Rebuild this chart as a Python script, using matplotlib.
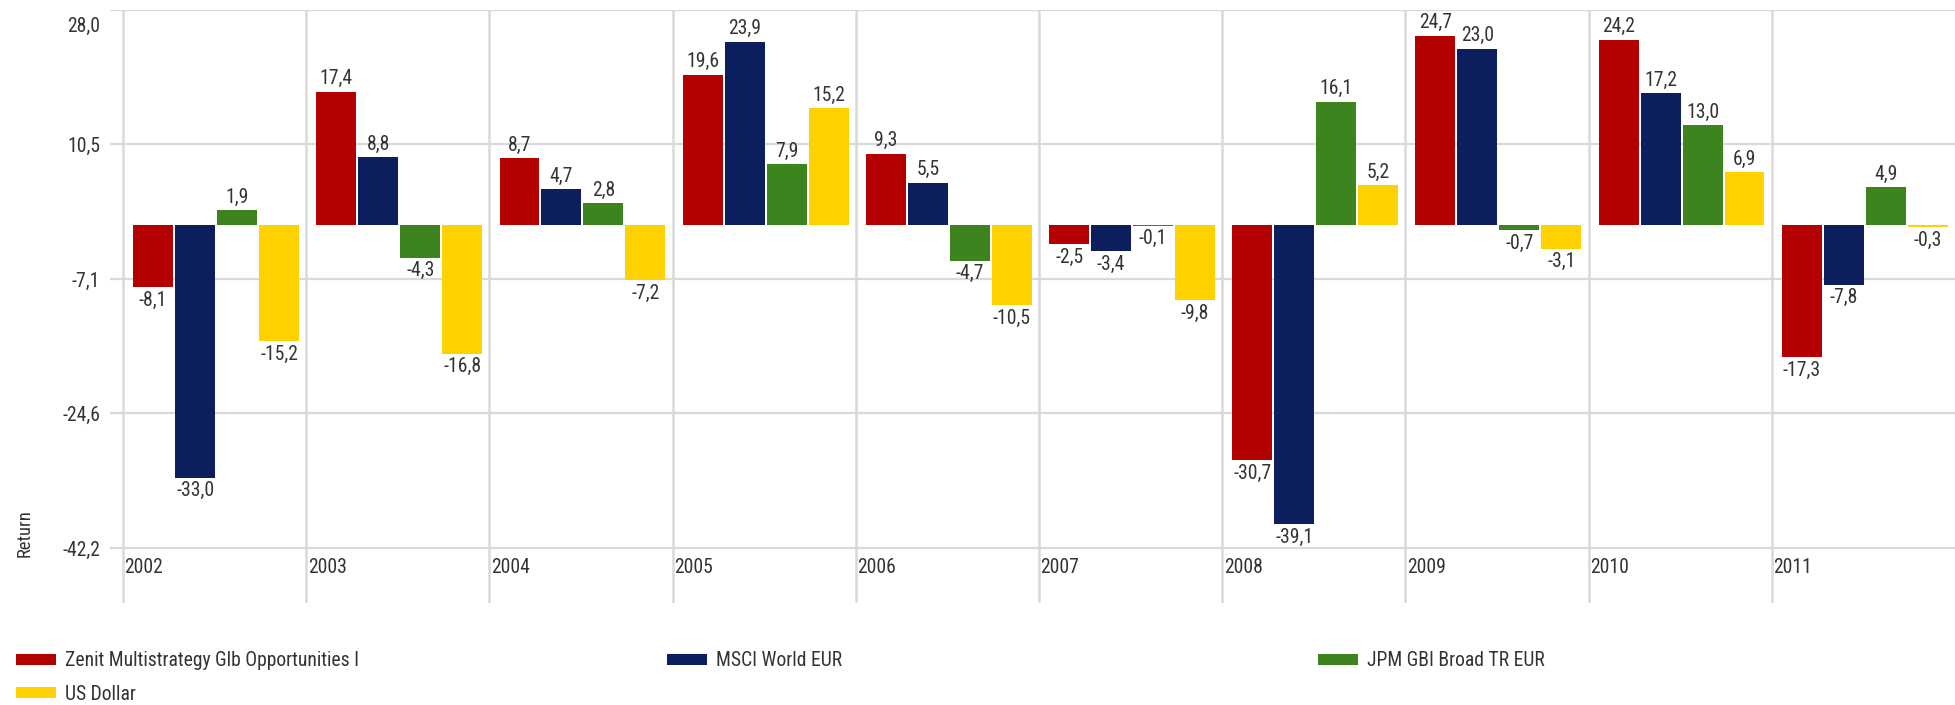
import matplotlib
matplotlib.use("Agg")
import matplotlib.pyplot as plt
import matplotlib.transforms as mtransforms
from matplotlib import font_manager as fm
from matplotlib.patches import Patch

# ---------------- data ----------------
years = ["2002", "2003", "2004", "2005", "2006", "2007", "2008", "2009", "2010", "2011"]
series_names = ["Zenit Multistrategy Glb Opportunities I", "MSCI World EUR",
                "JPM GBI Broad TR EUR", "US Dollar"]
zenit = [-8.1, 17.4, 8.7, 19.6, 9.3, -2.5, -30.7, 24.7, 24.2, -17.3]
msci = [-33.0, 8.8, 4.7, 23.9, 5.5, -3.4, -39.1, 23.0, 17.2, -7.8]
jpm = [1.9, -4.3, 2.8, 7.9, -4.7, -0.1, 16.1, -0.7, 13.0, 4.9]
usd = [-15.2, -16.8, -7.2, 15.2, -10.5, -9.8, 5.2, -3.1, 6.9, -0.3]
ytick_values = [28.0, 10.5, -7.1, -24.6, -42.2]
y_label = "Return"

series = [zenit, msci, jpm, usd]
colors = ["#B30000", "#0C1E5E", "#3E841E", "#FFD100"]
text_color = "#333333"
grid_color = "#D9D9D9"


def available(name):
    try:
        fm.findfont(fm.FontProperties(family=name), fallback_to_default=False)
        return True
    except Exception:
        return False


font_family, fsize = "DejaVu Sans", 11.0
for name, size in [("Roboto Condensed", 14.1), ("Liberation Sans Narrow", 14.3),
                   ("Liberation Sans", 12.3)]:
    if available(name):
        font_family, fsize = name, size
        break
plt.rcParams["font.family"] = [font_family, "DejaVu Sans"]


def fmt(v):
    return f"{v:.1f}".replace(".", ",")


fig = plt.figure(figsize=(19.55, 7.05), dpi=100)
ax = fig.add_axes([0.0563, 0.1447, 0.9437, 0.8405])
ax.set_xlim(-0.071, len(years))
ax.set_ylim(-49.36, 28.0)

for s in ax.spines.values():
    s.set_visible(False)

ax.set_yticks(ytick_values)
ax.set_yticklabels([fmt(v) for v in ytick_values])
ax.set_xticks([])
ax.tick_params(axis="y", length=0, pad=7, labelsize=fsize, labelcolor=text_color)
ax.yaxis.grid(True, color=grid_color, lw=1.6, zorder=0)
ax.set_axisbelow(True)

# keep the top tick label inside the figure (shifted down below its gridline)
top_lbl = ax.get_yticklabels()[0]
top_lbl.set_transform(top_lbl.get_transform() +
                      mtransforms.ScaledTranslation(0, -14 / 100, fig.dpi_scale_trans))

for k in range(len(years)):
    ax.axvline(k, color=grid_color, lw=1.8, zorder=0.5)
    ax.text(k + 0.008, -44.7, years[k], ha="left", va="center",
            fontsize=fsize, color=text_color)

offset, step, width = 0.055, 0.229, 0.218
handles = []
for i, (vals, col) in enumerate(zip(series, colors)):
    xs = [k + offset + i * step for k in range(len(years))]
    ax.bar(xs, vals, width=width, align="edge", color=col, zorder=2,
           label=series_names[i])
    handles.append(Patch(facecolor=col, label=series_names[i]))
    for x, v in zip(xs, vals):
        if v >= 0:
            ax.annotate(fmt(v), (x + width / 2, v), xytext=(0, 2.5),
                        textcoords="offset points", ha="center", va="bottom",
                        fontsize=fsize, color=text_color)
        else:
            ax.annotate(fmt(v), (x + width / 2, v), xytext=(0, -2.5),
                        textcoords="offset points", ha="center", va="top",
                        fontsize=fsize, color=text_color)

fig.text(0.0128, 0.244, y_label, rotation=90, ha="center", va="center",
         fontsize=fsize * 0.95, color=text_color)

leg_kw = dict(loc="upper left", frameon=False, borderaxespad=0, borderpad=0,
              handlelength=2.05, handleheight=0.55, handletextpad=0.45,
              labelspacing=0.72, fontsize=fsize, labelcolor=text_color)
leg_groups = [([handles[0], handles[3]], 0.0082),
              ([handles[1]], 0.341),
              ([handles[2]], 0.674)]
for hs, x in leg_groups:
    fig.legend(handles=hs, bbox_to_anchor=(x, 0.076), **leg_kw)

fig.savefig("out.png", dpi=100)
